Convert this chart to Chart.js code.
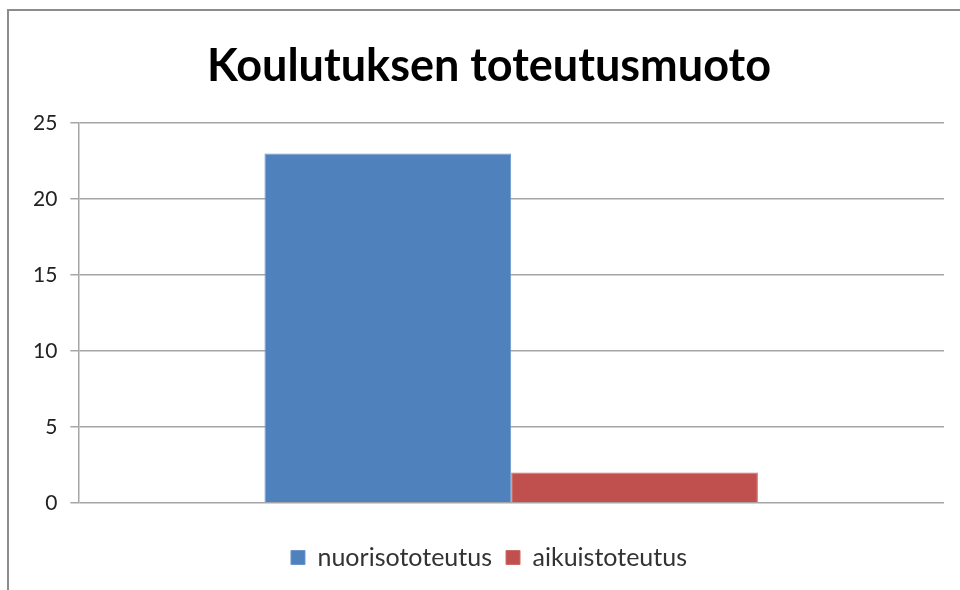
<!DOCTYPE html>
<html>
<head>
<meta charset="utf-8">
<script src="https://cdn.jsdelivr.net/npm/chart.js@4"></script>
<style>
  body { margin: 0; background: #fff; }
  #wrap { width: 960px; height: 590px; }
</style>
</head>
<body>
<div id="wrap"><canvas id="monGraphe" width="960" height="590"></canvas></div>
<script>
var categories = [""];
var nuoriso = [23];
var aikuis = [2];
var seriesNames = ["nuorisototeutus", "aikuistoteutus"];
var yTicks = [0, 5, 10, 15, 20, 25];

var gridColor = "#a6a6a6";

// cadre gris en haut et a gauche
var cadre = {
  id: "cadre",
  beforeDraw: function(chart) {
    var c = chart.ctx;
    c.save();
    c.fillStyle = "#fff";
    c.fillRect(0, 0, chart.width, chart.height);
    c.strokeStyle = "#8c8c8c";
    c.lineWidth = 2;
    c.beginPath();
    c.moveTo(8, chart.height);
    c.lineTo(8, 10);
    c.lineTo(chart.width, 10);
    c.stroke();
    c.restore();
  }
};

const ctx = document.getElementById("monGraphe");
var chart = new Chart(ctx, {
  type: "bar",
  plugins: [cadre],
  data: {
    labels: categories,
    datasets: [{
      label: seriesNames[0],
      data: nuoriso,
      backgroundColor: "#4F81BD",
      borderColor: "#6a96cc",
      borderWidth: 1
    }, {
      label: seriesNames[1],
      data: aikuis,
      backgroundColor: "#C0504D",
      borderColor: "#d06a67",
      borderWidth: 1
    }]
  },
  options: {
    responsive: false,
    animation: false,
    devicePixelRatio: 1,
    layout: { padding: { left: 34, right: 16, top: 20, bottom: 10 } },
    datasets: { bar: { barPercentage: 1, categoryPercentage: 0.57 } },
    plugins: {
      title: {
        display: true,
        text: "Koulutuksen toteutusmuoto",
        color: "#000",
        font: { family: "Lato", size: 45, weight: "bold" },
        padding: { top: 19, bottom: 30 }
      },
      legend: {
        position: "bottom",
        labels: {
          color: "#333",
          font: { family: "Lato", size: 25 },
          boxWidth: 14,
          boxHeight: 14,
          padding: 14
        }
      },
      tooltip: { enabled: false }
    },
    scales: {
      x: {
        grid: { display: false },
        border: { display: false },
        ticks: { display: false },
        afterFit: function(axis) { axis.height = axis.height + 20; }
      },
      y: {
        min: 0,
        max: 25,
        afterBuildTicks: function(axis) {
          axis.ticks = yTicks.map(function(v) { return { value: v }; });
        },
        afterFit: function(axis) { axis.width = axis.width - 14; },
        grid: { color: gridColor, lineWidth: 1.5, tickLength: 8 },
        border: { display: true, color: gridColor, width: 1.5 },
        ticks: {
          color: "#222",
          font: { family: "Lato", size: 21 },
          padding: 13
        }
      }
    }
  }
});
</script>
</body>
</html>
